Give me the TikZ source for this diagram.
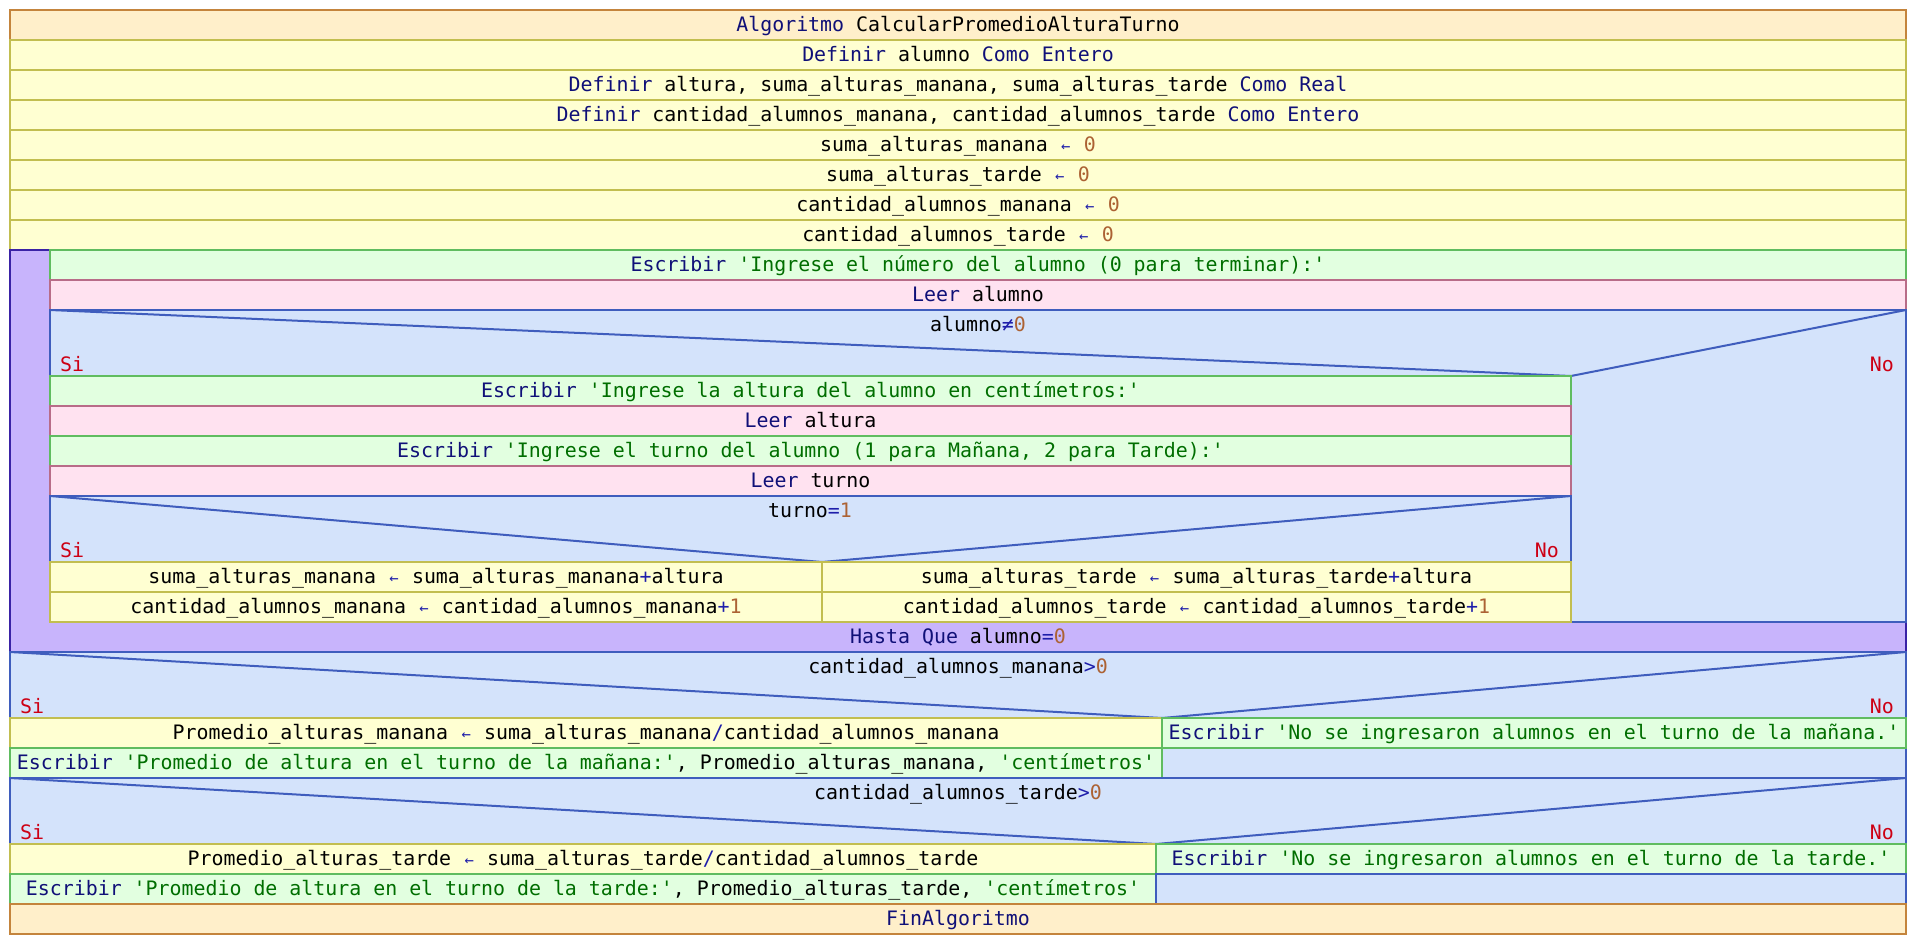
\documentclass[tikz,border=0pt]{standalone}
\usepackage{fontspec}
\setmonofont{DejaVu Sans Mono}
\usepackage{graphicx}
\definecolor{algF}{HTML}{FFEFCA}
\definecolor{algB}{HTML}{C4843C}
\definecolor{yelF}{HTML}{FFFFD2}
\definecolor{yelB}{HTML}{C2BE50}
\definecolor{grnF}{HTML}{E2FFE0}
\definecolor{grnB}{HTML}{60BC60}
\definecolor{pnkF}{HTML}{FFE2F0}
\definecolor{pnkB}{HTML}{B86C88}
\definecolor{bluF}{HTML}{D4E3FB}
\definecolor{bluB}{HTML}{3F5DBD}
\definecolor{lopF}{HTML}{C8B4FC}
\definecolor{lopB}{HTML}{3A22A6}
\definecolor{kwc}{RGB}{16,16,120}
\definecolor{strc}{RGB}{0,110,0}
\definecolor{numc}{RGB}{172,98,52}
\definecolor{opc}{RGB}{30,30,170}
\definecolor{sinoc}{RGB}{205,0,20}
\newcommand\Kw[1]{\textcolor{kwc}{#1}}
\newcommand\Str[1]{\textcolor{strc}{#1}}
\newcommand\Num[1]{\textcolor{numc}{#1}}
\newcommand\Op[1]{\textcolor{opc}{#1}}
\newcommand\Asg{\textcolor{opc}{\makebox[0.602em]{\scalebox{0.78}{←}}}}
\newcommand\Cell[7]{\node[#2, anchor=north west, minimum width=#5-#3, minimum height=#6-#4] (#1) at (#3,#4) {#7};}
\tikzset{
  txt/.style={inner sep=0pt, outer sep=0pt, text height=16.5pt, text depth=4pt,
    font=\ttfamily\fontsize{19.9}{24}\selectfont},
  box/.style={txt, line width=2pt},
  cA/.style={box, draw=algB, fill=algF},
  cY/.style={box, draw=yelB, fill=yelF},
  cG/.style={box, draw=grnB, fill=grnF},
  cP/.style={box, draw=pnkB, fill=pnkF},
  cB/.style={box, draw=bluB, fill=bluF},
  cL/.style={box, draw=lopB, fill=lopF},
  diag/.style={draw=bluB, line width=2pt},
  sino/.style={inner sep=0pt, font=\ttfamily\fontsize{19.9}{24}\selectfont, text=sinoc},
}
\begin{document}
\begin{tikzpicture}[x=1pt,y=-1pt]
\useasboundingbox (0,0) rectangle (1916,944);
\fill[white] (0,0) rectangle (1916,944);
% header rows
\Cell{r1}{cA}{10}{10}{1906}{40}{\Kw{Algoritmo} CalcularPromedioAlturaTurno}
\Cell{r2}{cY}{10}{40}{1906}{70}{\Kw{Definir} alumno \Kw{Como Entero}}
\Cell{r3}{cY}{10}{70}{1906}{100}{\Kw{Definir} altura, suma\_alturas\_manana, suma\_alturas\_tarde \Kw{Como Real}}
\Cell{r4}{cY}{10}{100}{1906}{130}{\Kw{Definir} cantidad\_alumnos\_manana, cantidad\_alumnos\_tarde \Kw{Como Entero}}
\Cell{r5}{cY}{10}{130}{1906}{160}{suma\_alturas\_manana \Asg{} \Num{0}}
\Cell{r6}{cY}{10}{160}{1906}{190}{suma\_alturas\_tarde \Asg{} \Num{0}}
\Cell{r7}{cY}{10}{190}{1906}{220}{cantidad\_alumnos\_manana \Asg{} \Num{0}}
\Cell{r8}{cY}{10}{220}{1906}{250}{cantidad\_alumnos\_tarde \Asg{} \Num{0}}
% loop
\Cell{loop}{cL}{10}{250}{1906}{652}{}
\node[txt] (hasta) at (958,637) {\Kw{Hasta Que} alumno\Op{=}\Num{0}};
\Cell{r9}{cG}{50}{250}{1906}{280}{\Kw{Escribir} \Str{'Ingrese el número del alumno (0 para terminar):'}}
\Cell{r10}{cP}{50}{280}{1906}{310}{\Kw{Leer} alumno}
% if alumno != 0
\Cell{ifA}{cB}{50}{310}{1906}{622}{}
\coordinate (vA) at (1571,376);
\draw[diag] (ifA.north west) -- (vA) -- (ifA.north east);
\node[txt] (condA) at (978,325) {alumno\Op{≠}\Num{0}};
\node[sino, anchor=base west] (siA) at (60,371) {Si};
\node[sino, anchor=base east] (noA) at (1894,371) {No};
\Cell{r13}{cG}{50}{376}{1571}{406}{\Kw{Escribir} \Str{'Ingrese la altura del alumno en centímetros:'}}
\Cell{r14}{cP}{50}{406}{1571}{436}{\Kw{Leer} altura}
\Cell{r15}{cG}{50}{436}{1571}{466}{\Kw{Escribir} \Str{'Ingrese el turno del alumno (1 para Mañana, 2 para Tarde):'}}
\Cell{r16}{cP}{50}{466}{1571}{496}{\Kw{Leer} turno}
% if turno = 1
\Cell{ifT}{cB}{50}{496}{1571}{562}{}
\coordinate (vT) at (822,562);
\draw[diag] (ifT.north west) -- (vT) -- (ifT.north east);
\node[txt] (condT) at (810,511) {turno\Op{=}\Num{1}};
\node[sino, anchor=base west] (siT) at (60,557) {Si};
\node[sino, anchor=base east] (noT) at (1559,557) {No};
\Cell{s1}{cY}{50}{562}{822}{592}{suma\_alturas\_manana \Asg{} suma\_alturas\_manana\Op{+}altura}
\Cell{s2}{cY}{50}{592}{822}{622}{cantidad\_alumnos\_manana \Asg{} cantidad\_alumnos\_manana\Op{+}\Num{1}}
\Cell{n1}{cY}{822}{562}{1571}{592}{suma\_alturas\_tarde \Asg{} suma\_alturas\_tarde\Op{+}altura}
\Cell{n2}{cY}{822}{592}{1571}{622}{cantidad\_alumnos\_tarde \Asg{} cantidad\_alumnos\_tarde\Op{+}\Num{1}}
% if cantidad_alumnos_manana > 0
\Cell{ifM}{cB}{10}{652}{1906}{778}{}
\coordinate (vM) at (1162,718);
\draw[diag] (ifM.north west) -- (vM) -- (ifM.north east);
\node[txt] (condM) at (958,667) {cantidad\_alumnos\_manana\Op{>}\Num{0}};
\node[sino, anchor=base west] (siM) at (20,713) {Si};
\node[sino, anchor=base east] (noM) at (1894,713) {No};
\Cell{p1}{cY}{10}{718}{1162}{748}{Promedio\_alturas\_manana \Asg{} suma\_alturas\_manana\Op{/}cantidad\_alumnos\_manana}
\Cell{e1}{cG}{10}{748}{1162}{778}{\Kw{Escribir} \Str{'Promedio de altura en el turno de la mañana:'}, Promedio\_alturas\_manana, \Str{'centímetros'}}
\Cell{ne1}{cG}{1162}{718}{1906}{748}{\Kw{Escribir} \Str{'No se ingresaron alumnos en el turno de la mañana.'}}
% if cantidad_alumnos_tarde > 0
\Cell{ifD}{cB}{10}{778}{1906}{844}{}
\coordinate (vD) at (1156,844);
\draw[diag] (ifD.north west) -- (vD) -- (ifD.north east);
\node[txt] (condD) at (958,793) {cantidad\_alumnos\_tarde\Op{>}\Num{0}};
\node[sino, anchor=base west] (siD) at (20,839) {Si};
\node[sino, anchor=base east] (noD) at (1894,839) {No};
\Cell{p2}{cY}{10}{844}{1156}{874}{Promedio\_alturas\_tarde \Asg{} suma\_alturas\_tarde\Op{/}cantidad\_alumnos\_tarde}
\Cell{e2}{cG}{10}{874}{1156}{904}{\Kw{Escribir} \Str{'Promedio de altura en el turno de la tarde:'}, Promedio\_alturas\_tarde, \Str{'centímetros'}}
\Cell{ne2}{cG}{1156}{844}{1906}{874}{\Kw{Escribir} \Str{'No se ingresaron alumnos en el turno de la tarde.'}}
\Cell{ee2}{cB}{1156}{874}{1906}{904}{}
\Cell{fin}{cA}{10}{904}{1906}{934}{\Kw{FinAlgoritmo}}
\end{tikzpicture}
\end{document}
